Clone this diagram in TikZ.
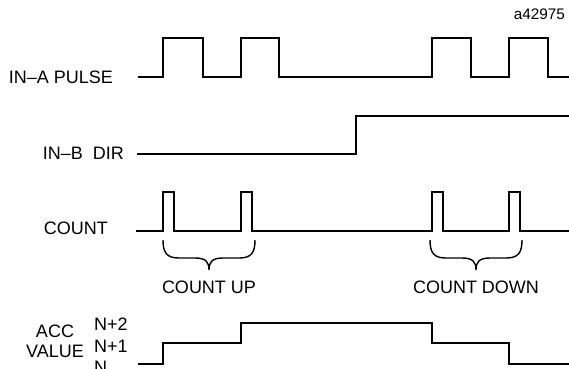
\documentclass[tikz,border=0pt]{standalone}
\usepackage{fontspec}
\setmainfont{Liberation Sans}
\begin{document}
\begin{tikzpicture}[x=1pt,y=-1pt,
  wave/.style={line width=1.6pt,line join=miter},
  lbl/.style={inner sep=0pt,font=\fontsize{18}{21}\selectfont},
  small/.style={inner sep=0pt,font=\fontsize{15.3}{18}\selectfont},
  cbrace/.pic={\draw[line width=1.4pt] (-46,0) .. controls (-46,13) and (-42,18) .. (-30,18) -- (-14,18) .. controls (-3,18) and (0,22) .. (0,30) .. controls (0,22) and (3,18) .. (14,18) -- (30,18) .. controls (42,18) and (46,13) .. (46,0);}]
\useasboundingbox (0,0) rectangle (569,368);
\clip (0,0) rectangle (569,368);
% labels
\node[small,anchor=base east] (id) at (565,19) {a42975};
\node[lbl,anchor=base east] (pulse) at (113,83) {IN–A PULSE};
\node[lbl,anchor=base east] (dir) at (124,159) {IN–B\ \ DIR};
\node[lbl,anchor=base east] (count) at (108,234) {COUNT};
\node[lbl,anchor=base] (up) at (209,293) {COUNT UP};
\node[lbl,anchor=base] (down) at (476,293) {COUNT DOWN};
\node[lbl,anchor=base] (acc) at (55,337) {ACC};
\node[lbl,anchor=base] (val) at (55,357) {VALUE};
\node[lbl,anchor=base west] (n2) at (94,330) {N+2};
\node[lbl,anchor=base west] (n1) at (94,352) {N+1};
\node[lbl,anchor=base west] (n0) at (94,373) {N};
% waveforms
\draw[wave] (138,77) -- (163,77) -- (163,38) -- (203,38) -- (203,77) -- (241,77) -- (241,38) -- (279,38) -- (279,77) -- (432,77) -- (432,38) -- (471,38) -- (471,77) -- (509,77) -- (509,38) -- (548,38) -- (548,77) -- (570,77);
\draw[wave] (137,154) -- (356,154) -- (356,116) -- (570,116);
\draw[wave] (136,231) -- (163,231) -- (163,192) -- (174,192) -- (174,231) -- (241,231) -- (241,192) -- (252,192) -- (252,231) -- (432,231) -- (432,192) -- (443,192) -- (443,231) -- (509,231) -- (509,192) -- (520,192) -- (520,231) -- (570,231);
\draw[wave] (138,364) -- (163,364) -- (163,343) -- (241,343) -- (241,323) -- (432,323) -- (432,343) -- (509,343) -- (509,364) -- (570,364);
% braces
\pic at (209,240) {cbrace};
\pic at (476,240) {cbrace};
\end{tikzpicture}
\end{document}
